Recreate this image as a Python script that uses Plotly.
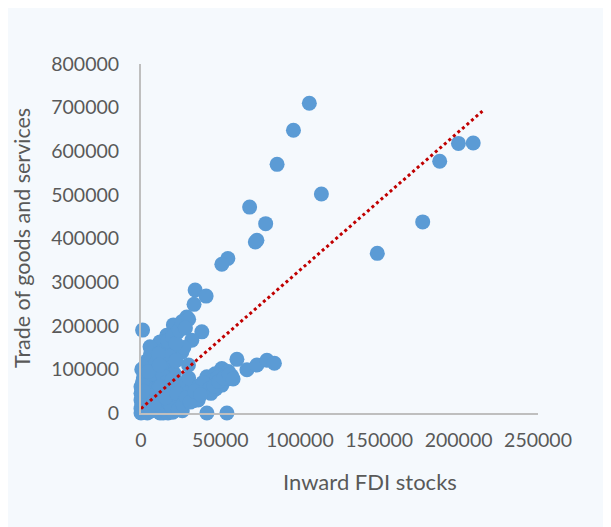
import plotly.graph_objects as go

# Inward FDI stocks (x) and trade of goods and services (y)
fdi = [
    106000, 96000, 85700, 68400, 78500, 73000, 72000, 54700, 50900,
    113600, 148800, 177400, 188100, 199900, 209200,
    34100, 41000, 33400, 1000, 28800, 20400, 38300, 32000, 16200, 12000, 5700,
    25700, 29900, 20400, 27000, 23000, 18000, 14000, 9000,
    60400, 66700, 73000, 79300, 84000, 50900, 52000, 41500, 46700, 50900,
    41500, 35100, 26700, 30900, 41500, 54100, 18300, 14000,
    0, 500, 1000, 0, 1500, 500, 2000, 3000, 2000, 3000, 1000, 2000, 4000,
    5000, 6000, 5000, 7000, 6000, 8000, 9000, 10000, 8000, 9000, 10000,
    12000, 15000, 17000, 20000, 13000, 14000, 12000, 15000, 13000, 16000,
    18000, 17000, 20000, 22000, 24000, 26000, 30000, 28000, 19000, 21000,
    23000, 18000, 16000, 20000, 24000, 25000, 27000, 29000, 32000, 35000,
    30000, 22000, 25000, 33000, 38000, 40000, 42000, 45000, 48000, 55000,
    53000, 47000, 44000, 50000, 57000, 36000, 0, 0, 3000, 8000, 11000,
    22000, 26000, 7000, 4000,
    0, 1000, 2500, 4000, 6000, 7500, 9500, 11000, 12500, 14000, 16000,
    3500, 5500, 7500, 10500, 12000, 14500, 17000, 19000, 21000, 23500,
    1500, 4500, 8500, 11500, 15500, 19500, 22500, 26500, 28500, 31000,
    36500, 39000, 43000, 46000, 49000, 52000, 55500, 58000, 34000, 37500,
]
trade = [
    710000, 648000, 570000, 472000, 434000, 396000, 392000, 354000, 341000,
    502000, 366000, 438000, 577000, 618000, 619000,
    282000, 268000, 249000, 190000, 220000, 202000, 186000, 167000, 178000, 163000, 152000,
    140000, 110000, 129000, 150000, 185000, 145000, 120000, 130000,
    123000, 99000, 110000, 121000, 114000, 102000, 83000, 83000, 90000, 64000,
    53000, 37000, 37000, 60000, 0, 0, 7000, 0,
    0, 20000, 40000, 60000, 80000, 100000, 105000, 90000, 70000, 50000, 30000, 10000, 0,
    25000, 45000, 65000, 85000, 110000, 125000, 100000, 75000, 55000, 35000, 15000,
    0, 5000, 0, 2000, 30000, 50000, 95000, 115000, 140000, 150000,
    130000, 165000, 175000, 160000, 190000, 210000, 215000, 195000, 105000, 90000,
    70000, 60000, 80000, 40000, 25000, 50000, 60000, 45000, 35000, 40000,
    80000, 20000, 10000, 28000, 50000, 60000, 70000, 75000, 80000, 95000,
    75000, 55000, 45000, 65000, 85000, 30000, 10000, 45000, 20000, 15000, 60000,
    120000, 5000, 5000, 115000,
    30000, 70000, 95000, 120000, 135000, 90000, 115000, 135000, 105000, 85000, 70000,
    8000, 12000, 40000, 30000, 60000, 10000, 25000, 15000, 55000, 8000,
    50000, 95000, 20000, 110000, 35000, 75000, 45000, 20000, 35000, 25000,
    62000, 70000, 55000, 62000, 72000, 80000, 88000, 78000, 50000, 42000,
]

# Linear trend line end points
trend_x = [0, 215000]
trend_y = [10000, 692000]

x_ticks = [0, 50000, 100000, 150000, 200000, 250000]
y_ticks = [0, 100000, 200000, 300000, 400000, 500000, 600000, 700000, 800000]

BG = "#f5f9fd"
FONT = "Lato, 'Open Sans', sans-serif"
TXT = "#595959"

fig = go.Figure()
fig.add_trace(go.Scatter(
    x=fdi, y=trade, mode="markers",
    marker=dict(size=15, color="#5b9bd5"),
    cliponaxis=False, showlegend=False,
))
fig.add_trace(go.Scatter(
    x=trend_x, y=trend_y, mode="lines",
    line=dict(color="#c00000", width=3, dash="dot"),
    cliponaxis=False, showlegend=False,
))

fig.update_layout(
    width=603, height=519,
    paper_bgcolor=BG, plot_bgcolor=BG,
    margin=dict(l=133, r=73, t=56, b=114),
    font=dict(family=FONT, size=19.5, color=TXT),
    xaxis=dict(
        range=[0, 250000], tickvals=x_ticks, tickformat="d",
        showgrid=False, zeroline=False, showline=True,
        linecolor="#bfbfbf", linewidth=2, ticks="",
        ticklabelstandoff=9,
    ),
    yaxis=dict(
        range=[0, 800000], tickvals=y_ticks, tickformat="d",
        showgrid=False, zeroline=False, showline=True,
        linecolor="#bfbfbf", linewidth=2, ticks="",
        ticklabelstandoff=16,
    ),
    annotations=[
        dict(
            text="Inward FDI stocks", xref="paper", yref="paper",
            x=0.577, y=-0.195, xanchor="center", yanchor="middle",
            showarrow=False, font=dict(family=FONT, size=22, color=TXT),
        ),
        dict(
            text="Trade of goods and services", xref="paper", yref="paper",
            x=-0.2985, y=0.503, xanchor="center", yanchor="middle",
            textangle=-90, showarrow=False,
            font=dict(family=FONT, size=21.5, color=TXT),
        ),
    ],
)

fig.write_html("out.html")
